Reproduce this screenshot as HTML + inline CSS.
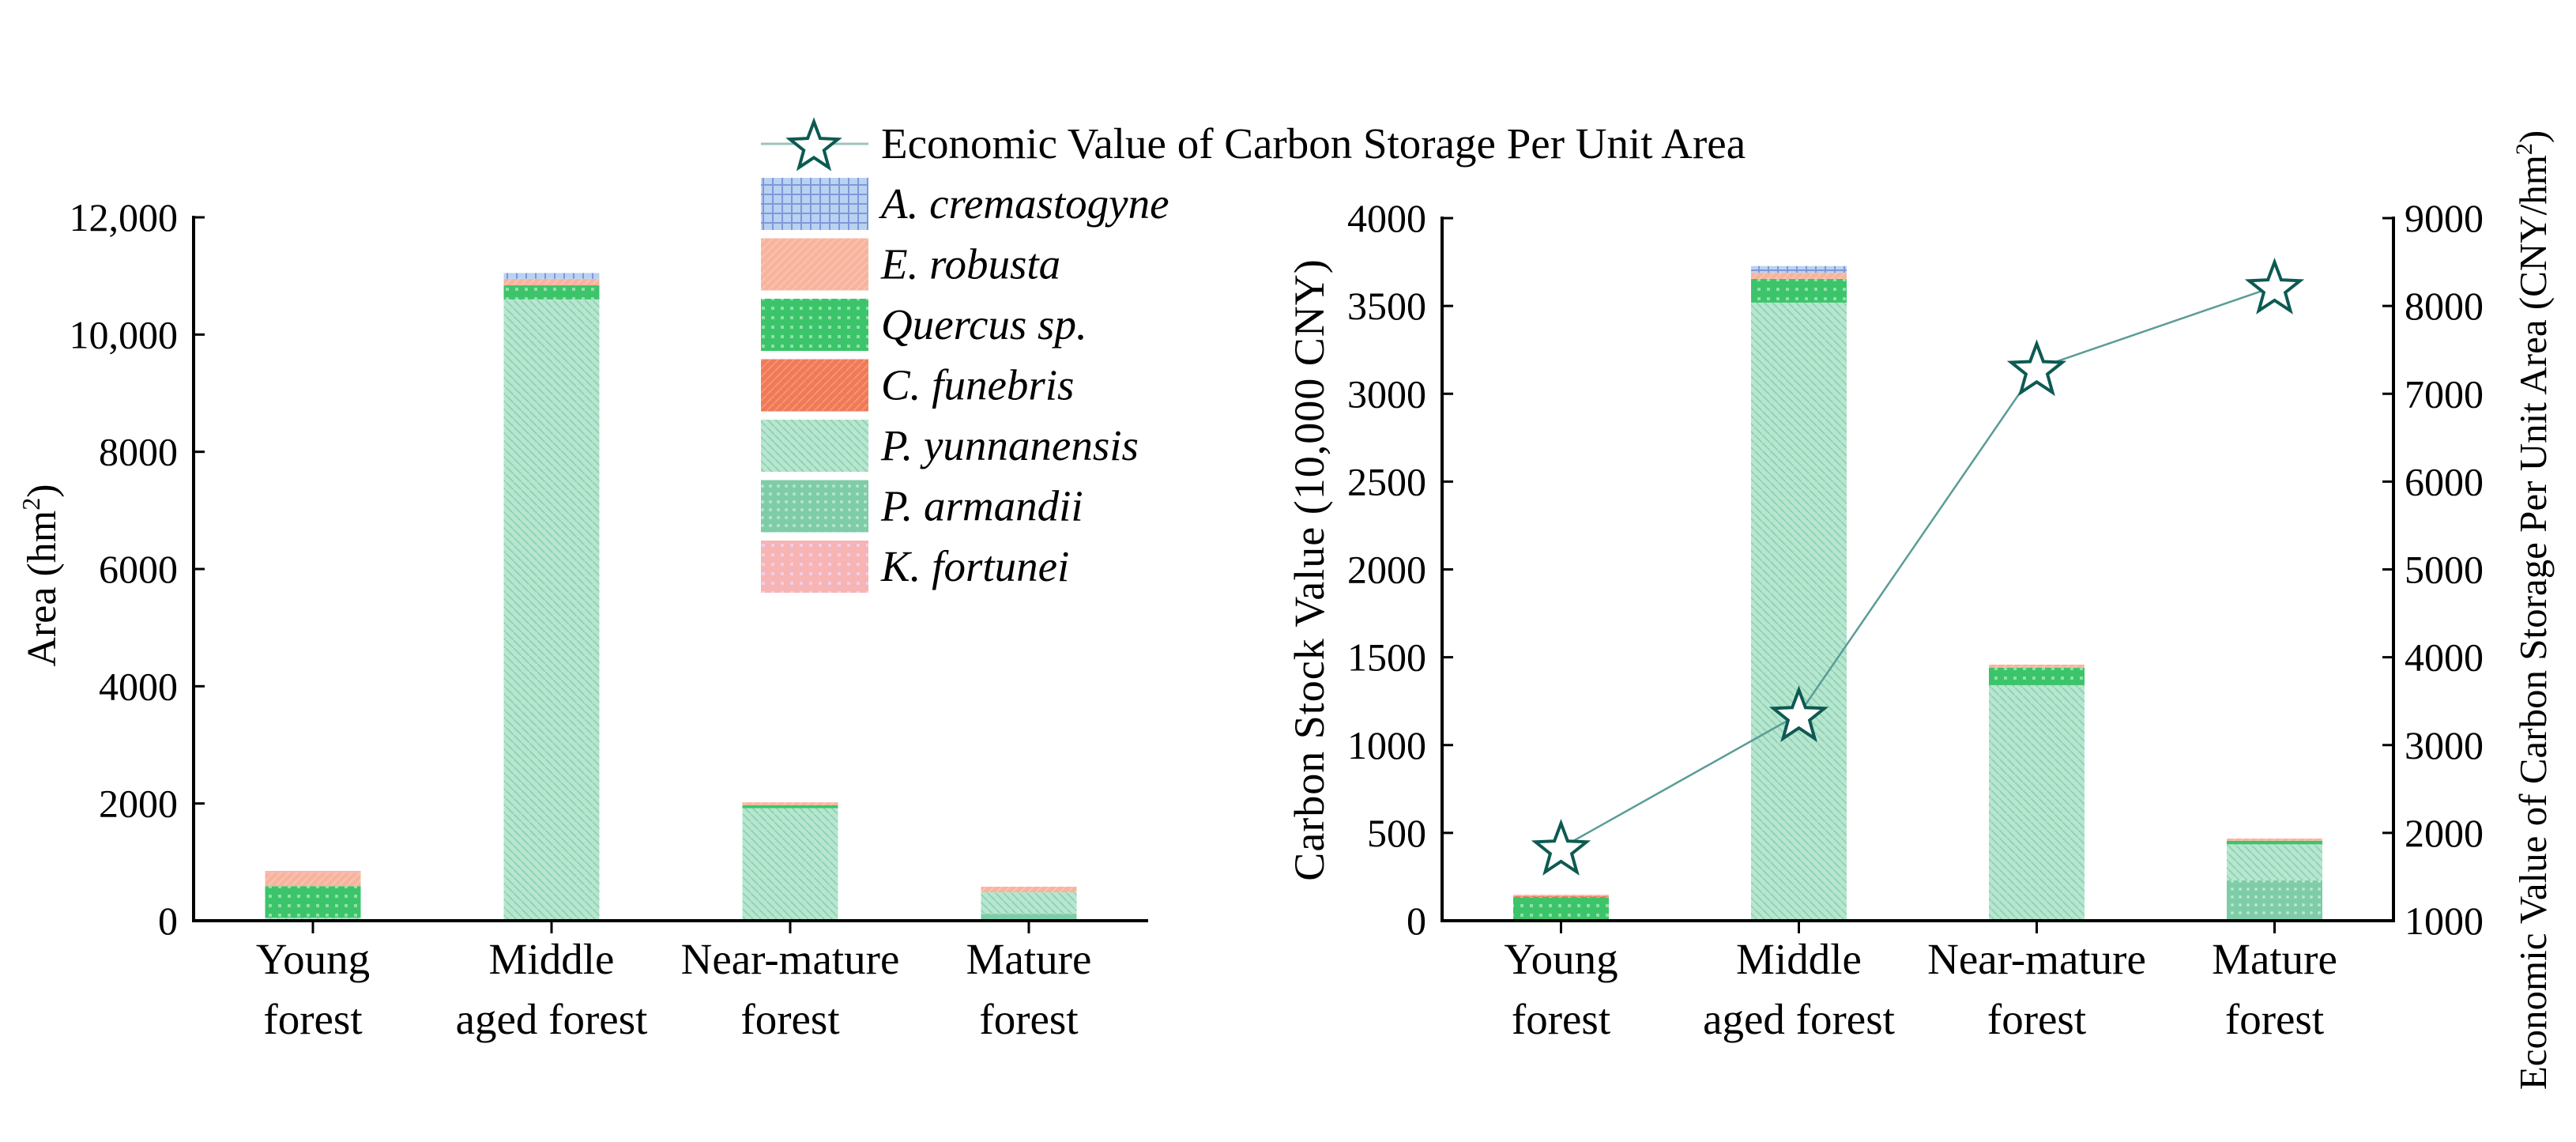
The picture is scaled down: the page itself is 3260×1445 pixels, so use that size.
<!DOCTYPE html>
<html><head><meta charset="utf-8"><style>
html,body{margin:0;padding:0;background:#fff;}
svg{display:block;font-family:"Liberation Serif",serif;}
</style></head><body>
<svg id="chart" width="3260" height="1445" viewBox="0 0 3260 1445" xmlns="http://www.w3.org/2000/svg">
<defs>
<pattern id="pat-A" width="12" height="12" patternUnits="userSpaceOnUse"><rect width="12" height="12" fill="#b9d2f2"/><rect x="0" y="5" width="12" height="2" fill="#7f98d8"/><rect x="5" y="0" width="2" height="12" fill="#7f98d8"/></pattern>
<pattern id="pat-E" width="10" height="10" patternUnits="userSpaceOnUse"><rect width="10" height="10" fill="#f8b39c"/><path d="M0 10L10 0" stroke="#f9c4b2" stroke-width="2"/></pattern>
<pattern id="pat-Q" width="12" height="12" patternUnits="userSpaceOnUse"><rect width="12" height="12" fill="#3cc46a"/><rect x="4" y="4" width="4" height="4" fill="#8fe0a8"/></pattern>
<pattern id="pat-C" width="10" height="10" patternUnits="userSpaceOnUse"><rect width="10" height="10" fill="#f17a56"/><path d="M0 10L10 0" stroke="#f59478" stroke-width="2"/></pattern>
<pattern id="pat-Py" width="10" height="10" patternUnits="userSpaceOnUse"><rect width="10" height="10" fill="#b8e6d0"/><path d="M0 0L10 10" stroke="#8fd4b4" stroke-width="2"/></pattern>
<pattern id="pat-Pa" width="10" height="10" patternUnits="userSpaceOnUse"><rect width="10" height="10" fill="#7fcca8"/><circle cx="5" cy="5" r="2" fill="#b5e5cf"/></pattern>
<pattern id="pat-K" width="12" height="12" patternUnits="userSpaceOnUse"><rect width="12" height="12" fill="#f7b4b4"/><rect x="4" y="4" width="4" height="4" fill="#f3cde6"/></pattern>
</defs>
<g id="root"></g>
</svg>
<script>
// ---- data ----
const categories = [["Young","forest"],["Middle","aged forest"],["Near-mature","forest"],["Mature","forest"]];
const speciesNames = ["A. cremastogyne","E. robusta","Quercus sp.","C. funebris","P. yunnanensis","P. armandii","K. fortunei"];
const speciesKeys = ["A","E","Q","C","Py","Pa","K"];
// stacking order bottom -> top
const stackOrder = ["Pa","Py","Q","C","E","A","K"];
// Area (hm2) per category
const areaPa = [30, 0, 0, 120];
const areaPy = [20, 10600, 1920, 365];
const areaQ  = [540, 240, 50, 0];
const areaC  = [0, 0, 0, 0];
const areaE  = [230, 110, 50, 95];
const areaA  = [0, 100, 0, 0];
const areaK  = [30, 0, 0, 0];
// Carbon stock value (10,000 CNY)
const valPa = [0, 0, 0, 230];
const valPy = [5, 3519, 1341, 205];
const valQ  = [130, 135, 100, 20];
const valC  = [5, 0, 0, 0];
const valE  = [8, 35, 17, 13];
const valA  = [0, 38, 0, 0];
const valK  = [0, 0, 0, 0];
// Economic value per unit area (CNY/hm2)
const econValue = [1830, 3350, 7290, 8220];
const leftTicks = [0,2000,4000,6000,8000,10000,12000];
const leftTickLabels = ["0","2000","4000","6000","8000","10,000","12,000"];
const rTicks = [0,500,1000,1500,2000,2500,3000,3500,4000];
const r2Ticks = [1000,2000,3000,4000,5000,6000,7000,8000,9000];

const NS="http://www.w3.org/2000/svg";
const root=document.getElementById('root');
function mk(tag,attrs,parent){const e=document.createElementNS(NS,tag);for(const k in attrs)e.setAttribute(k,attrs[k]);(parent||root).appendChild(e);return e;}
function txt(s,attrs,parent){const e=mk('text',attrs,parent);e.textContent=s;return e;}

const areaData={Pa:areaPa,Py:areaPy,Q:areaQ,C:areaC,E:areaE,A:areaA,K:areaK};
const valData={Pa:valPa,Py:valPy,Q:valQ,C:valC,E:valE,A:valA,K:valK};

function drawPanel(cfg){
  const g=mk('g',{});
  
  
  const y=v=>cfg.y0-(v-cfg.vmin)/(cfg.vmax-cfg.vmin)*(cfg.y0-cfg.y1);
  const step=(cfg.x1-cfg.x0)/categories.length;
  const xc=i=>cfg.x0+step*(i+0.5);
  const bw=121;
  categories.forEach((c,i)=>{
    let acc=0;
    stackOrder.forEach(k=>{
      const v=cfg.data[k][i]; if(!v) return;
      const r=mk('rect',{x:xc(i)-bw/2,y:y(acc+v),width:bw,height:y(acc)-y(acc+v),fill:'url(#pat-'+k+')'},g);
      
      
      acc+=v;
    });
  });
  const ax=mk('path',{d:`M${cfg.x0} ${cfg.y1-2}V${cfg.y0}H${cfg.x1}`+(cfg.right?`V${cfg.y1-2}`:''),fill:'none',stroke:'#000','stroke-width':4},g);
  
  
  cfg.ticks.forEach((t,j)=>{
    mk('line',{x1:cfg.x0,x2:cfg.x0+14,y1:y(t),y2:y(t),stroke:'#000','stroke-width':3},g);
    const l=txt(cfg.tickLabels[j],{x:cfg.x0-20,y:y(t)+17,'text-anchor':'end','font-size':50},g);
    
    
  });
  categories.forEach((c,i)=>{
    mk('line',{x1:xc(i),x2:xc(i),y1:cfg.y0,y2:cfg.y0+16,stroke:'#000','stroke-width':3},g);
    const l=txt('',{x:xc(i),'text-anchor':'middle','font-size':55},g);
    
    
    mk('tspan',{x:xc(i),y:1232},l).textContent=c[0];
    mk('tspan',{x:xc(i),y:1308},l).textContent=c[1];
  });
  return {g,y,xc};
}

// Left panel
const L=drawPanel({name:'area-panel',x0:245,x1:1453,y0:1165,y1:275,vmin:0,vmax:12000,ticks:leftTicks,tickLabels:leftTickLabels,data:areaData});
const lt=txt('Area (hm',{x:0,y:0,'font-size':52,'text-anchor':'middle',transform:'translate(70,728) rotate(-90)'});


mk('tspan',{'font-size':32,dy:-20},lt).textContent='2';
mk('tspan',{dy:20},lt).textContent=')';

// Right panel
const R=drawPanel({name:'carbon-value-panel',x0:1825,x1:3029,y0:1165,y1:276,vmin:0,vmax:4000,ticks:rTicks,tickLabels:rTicks.map(String),data:valData,right:true});
const y2=v=>1165-(v-1000)/8000*889;
r2Ticks.forEach(t=>{
  mk('line',{x1:3029,x2:3015,y1:y2(t),y2:y2(t),stroke:'#000','stroke-width':3});
  const l=txt(String(t),{x:3043,y:y2(t)+17,'font-size':50});
  
  
});
const rt1=txt('Carbon Stock Value (10,000 CNY)',{x:0,y:0,'font-size':54,'text-anchor':'middle','letter-spacing':1,transform:'translate(1675,721) rotate(-90)'});


const rt2=txt('Economic Value of Carbon Storage Per Unit Area (CNY/hm',{x:0,y:0,'font-size':49,'text-anchor':'middle',transform:'translate(3222,772) rotate(-90)'});


mk('tspan',{'font-size':30,dy:-18},rt2).textContent='2';
mk('tspan',{dy:18},rt2).textContent=')';

function starPath(cx,cy,r){let d='';for(let k=0;k<10;k++){const a=-Math.PI/2+k*Math.PI/5;const rr=k%2?r*0.42:r;d+=(k?'L':'M')+(cx+rr*Math.cos(a)).toFixed(1)+' '+(cy+rr*Math.sin(a)).toFixed(1);}return d+'Z';}
const pts=econValue.map((v,i)=>[R.xc(i),y2(v)]);
const pl=mk('polyline',{points:pts.map(p=>p.join(',')).join(' '),fill:'none',stroke:'#5a9c96','stroke-width':2.5});


pts.forEach((p,i)=>{
  const s=mk('path',{d:starPath(p[0],p[1]+3,34),fill:'#fff',stroke:'#0d5a52','stroke-width':4,'stroke-linejoin':'miter'});
  
  
});

// Legend
const lg=mk('g',{});


mk('line',{x1:963,x2:1099,y1:182,y2:182,stroke:'#9cc3bd','stroke-width':3},lg);
mk('path',{d:starPath(1030,186,32),fill:'#fff',stroke:'#0d5a52','stroke-width':4},lg);
const lgt=txt('Economic Value of Carbon Storage Per Unit Area',{x:1115,y:200,'font-size':55},lg);


speciesKeys.forEach((k,i)=>{
  const top=225+i*76.5;
  const r=mk('rect',{x:963,y:top,width:136,height:66,fill:'url(#pat-'+k+')'},lg);
  
  
  const t=txt(speciesNames[i],{x:1115,y:top+51,'font-size':55,'font-style':'italic'},lg);
  
  
});
</script>
</body></html>
